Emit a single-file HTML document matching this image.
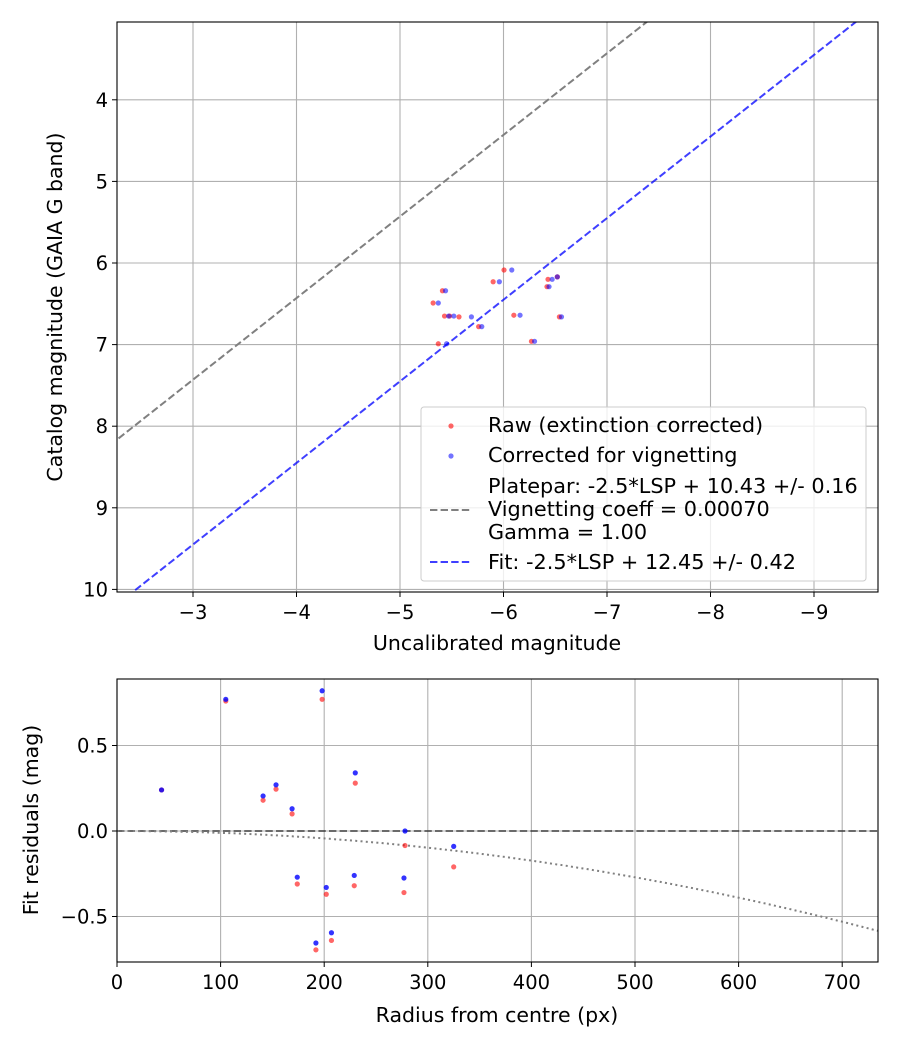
<!DOCTYPE html>
<html><head><meta charset="utf-8"><style>
body{margin:0;background:#fff}
svg text{font-family:"DejaVu Sans","Liberation Sans",sans-serif;fill:#000}
</style></head><body>
<svg id="c" width="900" height="1050" xmlns="http://www.w3.org/2000/svg"></svg>
<script>
const topRawX=[-6.005,-5.90,-5.41,-5.32,-5.43,-5.48,-5.57,-5.76,-5.37,-6.10,-6.27,-6.43,-6.52,-6.42,-6.54];
const topCorX=[-6.08,-5.96,-5.44,-5.37,-5.47,-5.52,-5.69,-5.79,-5.45,-6.16,-6.30,-6.47,-6.52,-6.44,-6.56];
const topY=[6.086,6.23,6.34,6.49,6.65,6.65,6.66,6.78,6.99,6.64,6.96,6.20,6.17,6.29,6.66];
const plateparZP=10.43, fitZP=12.45;
const topXTicks=[-3,-4,-5,-6,-7,-8,-9];
const topYTicks=[4,5,6,7,8,9,10];
const botR=[43,105,141,153.5,169,174,192,198,202,207,230,229,278,277,325];
const botRaw=[0.24,0.76,0.18,0.245,0.10,-0.31,-0.695,0.77,-0.37,-0.64,0.28,-0.32,-0.085,-0.36,-0.21];
const botCor=[0.24,0.77,0.205,0.27,0.13,-0.27,-0.655,0.82,-0.33,-0.595,0.34,-0.26,0.0,-0.275,-0.09];
const vigK=1.083e-6;
const botXTicks=[0,100,200,300,400,500,600,700];
const botYTicks=[0.5,0.0,-0.5];
const botYLabels=["0.5","0.0","\u22120.5"];

const svg=document.getElementById('c');
const NS='http://www.w3.org/2000/svg';
function el(t,a,p){const e=document.createElementNS(NS,t);for(const k in a)e.setAttribute(k,a[k]);(p||svg).appendChild(e);return e;}
const TF=19.5, AF=20.5, LF=20.8;

const T={l:117,r:878,t:22,b:592};
const tx=v=>193+(-3-v)*103.5;
const ty=v=>263+(v-6)*81.6;
const B={l:117,r:878,t:679,b:962};
const bx=v=>117+v*1.036;
const by=v=>831-v*171;

function frame(name){
  const g=el('g',{});return g;}
const gt=frame('top-chart');
const cpT=el('clipPath',{id:'cpt'});el('rect',{x:T.l,y:T.t,width:T.r-T.l,height:T.b-T.t},cpT);
const cpB=el('clipPath',{id:'cpb'});el('rect',{x:B.l,y:B.t,width:B.r-B.l,height:B.b-B.t},cpB);

topXTicks.forEach(v=>{const x=tx(v);
  const l=el('line',{x1:x,x2:x,y1:T.t,y2:T.b,stroke:'#b0b0b0','stroke-width':1.1},gt);
  el('line',{x1:x,x2:x,y1:T.b,y2:T.b+5,stroke:'#000'},gt);
  const t=el('text',{x:x,y:T.b+27,'text-anchor':'middle','font-size':TF},gt);t.textContent='\u2212'+Math.abs(v);});
topYTicks.forEach(v=>{const y=ty(v);
  const l=el('line',{x1:T.l,x2:T.r,y1:y,y2:y,stroke:'#b0b0b0','stroke-width':1.1},gt);
  el('line',{x1:T.l-5,x2:T.l,y1:y,y2:y,stroke:'#000'},gt);
  const t=el('text',{x:T.l-9,y:y+7,'text-anchor':'end','font-size':TF},gt);t.textContent=v;});
const gl=el('g',{'clip-path':'url(#cpt)'},gt);
function fitLine(zp,col,name){const x1=-2.2,x2=-9.7;
  const l=el('line',{x1:tx(x1),y1:ty(x1+zp),x2:tx(x2),y2:ty(x2+zp),stroke:col,'stroke-width':2,'stroke-dasharray':'7.4,3.2',opacity:col=='gray'?1:0.75},gl);
  }
fitLine(plateparZP,'gray','platepar-line');
fitLine(fitZP,'blue','fit-line');
topY.forEach((y,i)=>{
  const c=el('circle',{cx:tx(topRawX[i]),cy:ty(y),r:2.6,fill:'red',opacity:0.6},gl);});
topY.forEach((y,i)=>{
  const c=el('circle',{cx:tx(topCorX[i]),cy:ty(y),r:2.6,fill:'blue',opacity:0.55},gl);});
el('rect',{x:T.l,y:T.t,width:T.r-T.l,height:T.b-T.t,fill:'none',stroke:'#000','stroke-width':1.1},gt);
let t=el('text',{x:497,y:650,'text-anchor':'middle','font-size':AF},gt);t.textContent='Uncalibrated magnitude';
t=el('text',{x:0,y:0,'text-anchor':'middle','font-size':AF,transform:'translate(62,307) rotate(-90)'},gt);t.textContent='Catalog magnitude (GAIA G band)';

const lg=el('g',{},gt);
el('rect',{x:421,y:407,width:445,height:174,rx:3,fill:'#fff','fill-opacity':0.8,stroke:'#ccc'},lg);
el('circle',{cx:451,cy:426,r:2.6,fill:'red',opacity:0.6},lg);
el('circle',{cx:451,cy:456,r:2.6,fill:'blue',opacity:0.55},lg);
el('line',{x1:430,x2:472,y1:510,y2:510,stroke:'gray','stroke-width':2,'stroke-dasharray':'7.4,3.2'},lg);
el('line',{x1:430,x2:472,y1:562,y2:562,stroke:'blue','stroke-width':2,'stroke-dasharray':'7.4,3.2',opacity:0.75},lg);
[['Raw (extinction corrected)',432],['Corrected for vignetting',462],['Platepar: -2.5*LSP + 10.43 +/- 0.16',493],['Vignetting coeff = 0.00070',516],['Gamma = 1.00',539],['Fit: -2.5*LSP + 12.45 +/- 0.42',569]].forEach(([s,y])=>{
  const e=el('text',{x:488,y:y,'font-size':LF},lg);e.textContent=s;});

const gb=frame('bottom-chart');
botXTicks.forEach(v=>{const x=bx(v);
  const l=el('line',{x1:x,x2:x,y1:B.t,y2:B.b,stroke:'#b0b0b0','stroke-width':1.1},gb);
  el('line',{x1:x,x2:x,y1:B.b,y2:B.b+5,stroke:'#000'},gb);
  const e=el('text',{x:x,y:B.b+27,'text-anchor':'middle','font-size':TF},gb);e.textContent=v;});
botYTicks.forEach((v,i)=>{const y=by(v);
  const l=el('line',{x1:B.l,x2:B.r,y1:y,y2:y,stroke:'#b0b0b0','stroke-width':1.1},gb);
  el('line',{x1:B.l-5,x2:B.l,y1:y,y2:y,stroke:'#000'},gb);
  const e=el('text',{x:B.l-9,y:y+7,'text-anchor':'end','font-size':TF},gb);e.textContent=botYLabels[i];});
const gc=el('g',{'clip-path':'url(#cpb)'},gb);
let zl=el('line',{x1:B.l,x2:B.r,y1:by(0),y2:by(0),stroke:'#000','stroke-width':2,'stroke-dasharray':'7.4,3.2',opacity:0.5},gc);

let d='';for(let r=0;r<=740;r+=5){d+=(r?'L':'M')+bx(r).toFixed(1)+','+by(-vigK*r*r).toFixed(1);}
let vp=el('path',{d:d,fill:'none',stroke:'gray','stroke-width':2,'stroke-dasharray':'2,3.3'},gc);

botR.forEach((r,i)=>{const c=el('circle',{cx:bx(r),cy:by(botRaw[i]),r:2.6,fill:'red',opacity:0.6},gc);});
botR.forEach((r,i)=>{const c=el('circle',{cx:bx(r),cy:by(botCor[i]),r:2.6,fill:'blue',opacity:0.8},gc);});
el('rect',{x:B.l,y:B.t,width:B.r-B.l,height:B.b-B.t,fill:'none',stroke:'#000','stroke-width':1.1},gb);
t=el('text',{x:497,y:1022,'text-anchor':'middle','font-size':AF},gb);t.textContent='Radius from centre (px)';
t=el('text',{x:0,y:0,'text-anchor':'middle','font-size':AF,transform:'translate(38,820) rotate(-90)'},gb);t.textContent='Fit residuals (mag)';
</script>
</body></html>
